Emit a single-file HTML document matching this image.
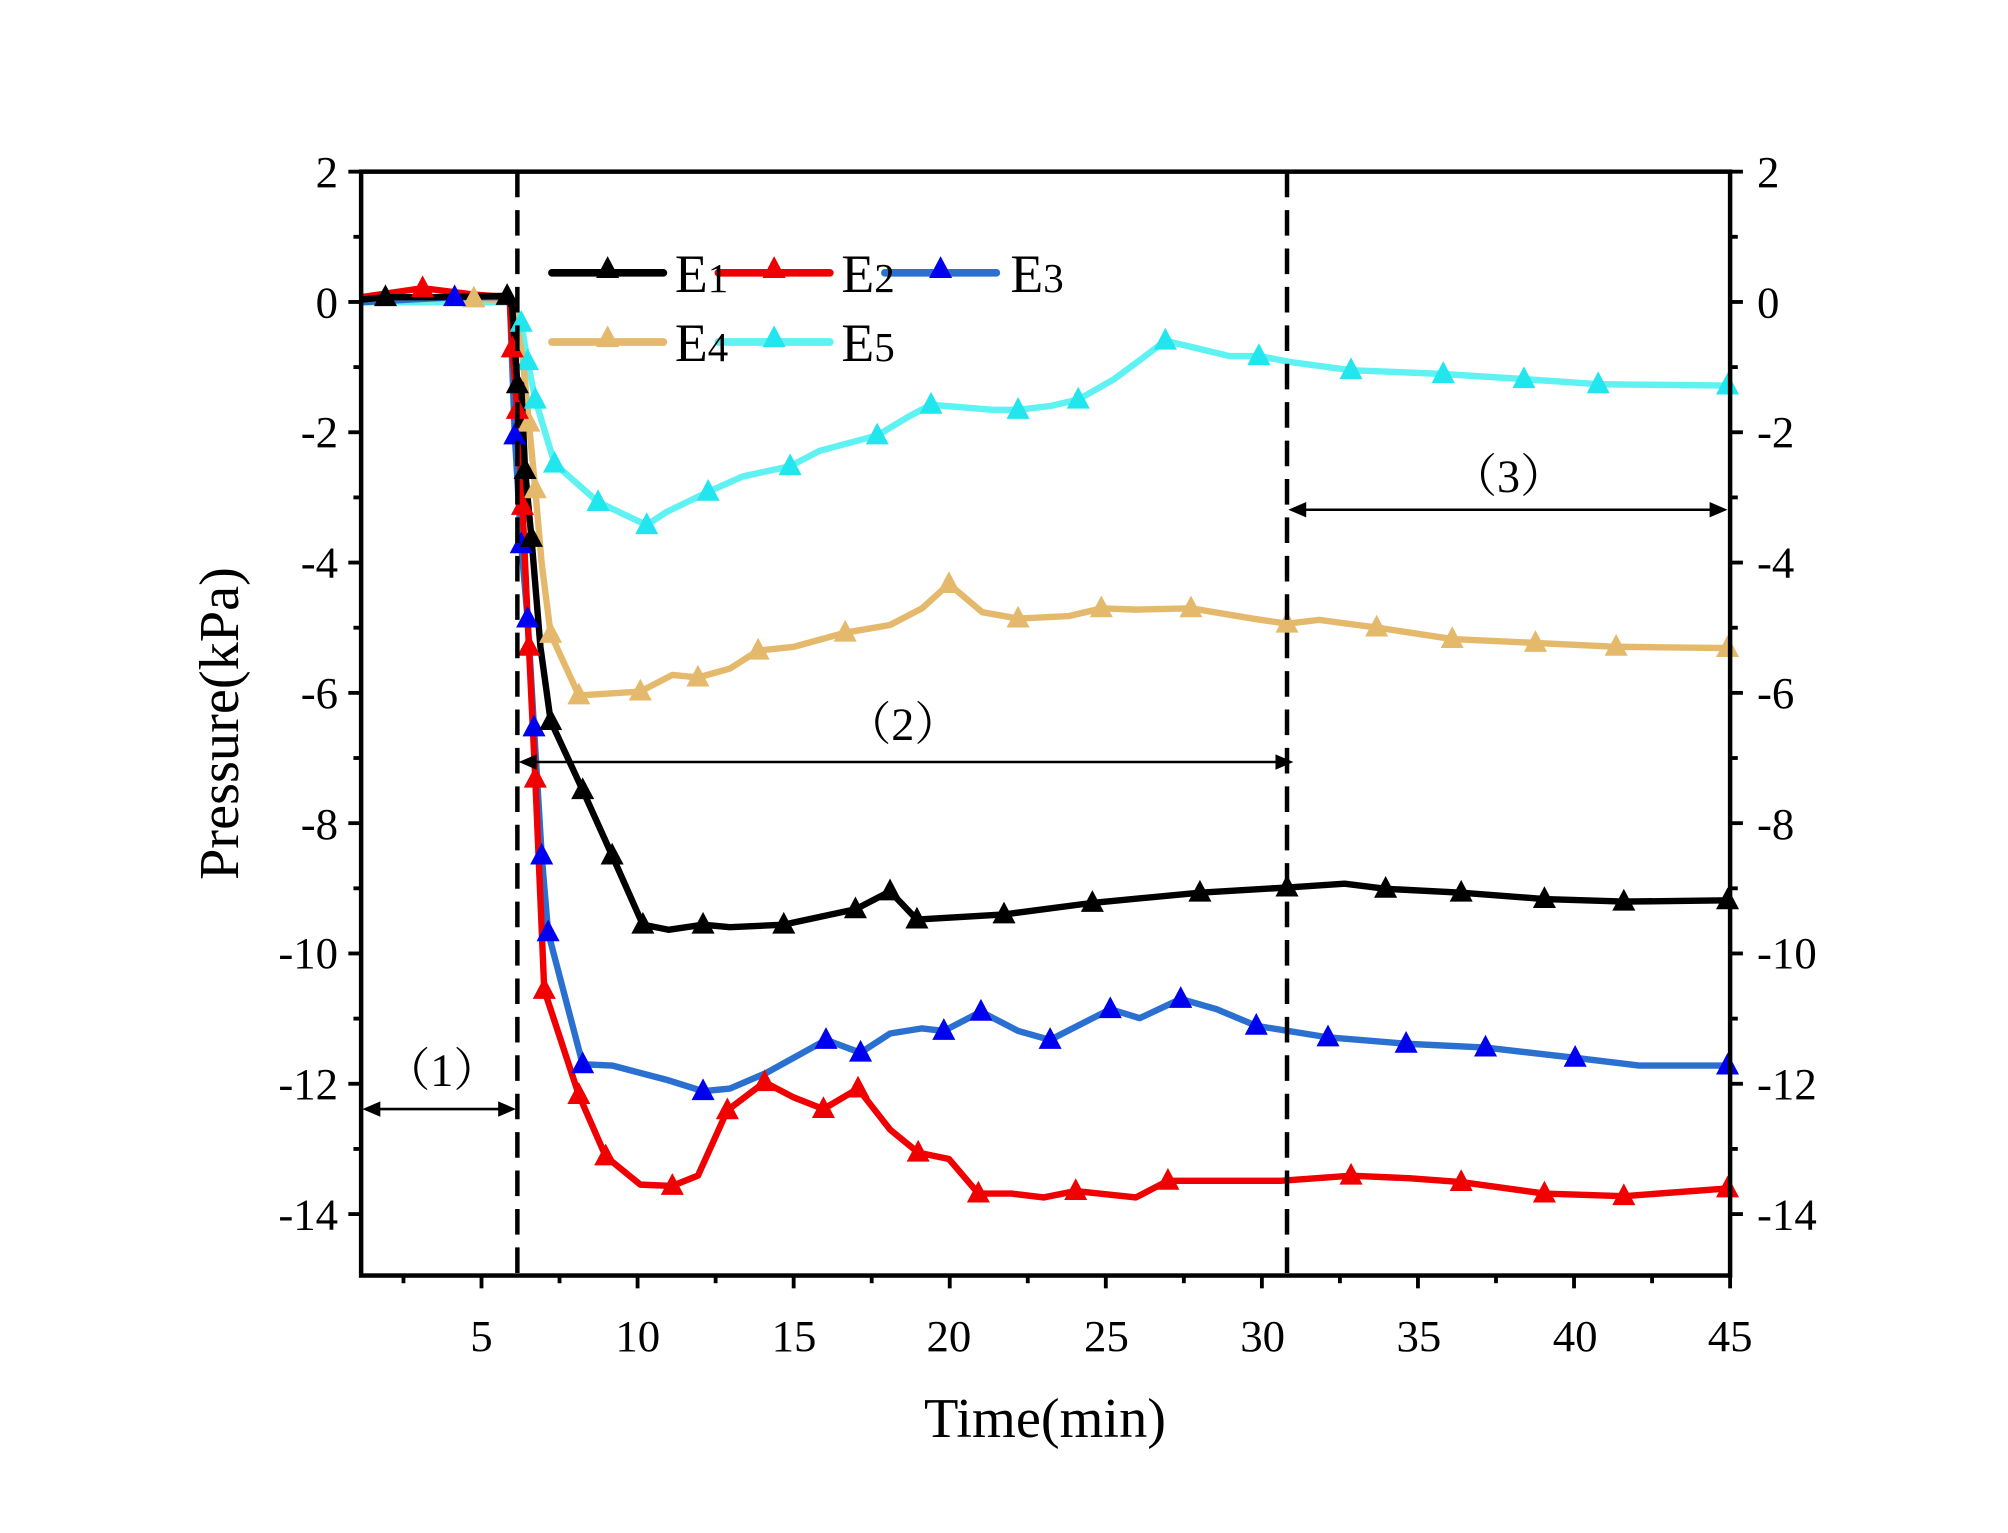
<!DOCTYPE html>
<html><head><meta charset="utf-8"><style>html,body{margin:0;padding:0;background:#fff}svg{display:block}</style></head>
<body>
<svg id="s" width="2008" height="1533" viewBox="0 0 1568 1197" xmlns="http://www.w3.org/2000/svg" font-family="Liberation Serif, 'Noto Serif CJK SC', serif">
<rect width="1568" height="1197" fill="#fff"/>
<g id="series"></g>
<g stroke="#000" stroke-width="3.5" fill="none">
<rect x="282" y="134" width="1069" height="862"/>
<line x1="404" y1="134" x2="404" y2="996" stroke-dasharray="20,10"/>
<line x1="1005" y1="134" x2="1005" y2="996" stroke-dasharray="20,10"/>
</g>
<g id="ticks" stroke="#000" stroke-width="3"></g>
<g font-size="35" text-anchor="end" fill="#000">
<text x="264" y="146">2</text><text x="264" y="248">0</text><text x="264" y="349">-2</text><text x="264" y="451">-4</text><text x="264" y="553">-6</text><text x="264" y="655">-8</text><text x="264" y="756">-10</text><text x="264" y="858">-12</text><text x="264" y="960">-14</text>
</g>
<g font-size="35" text-anchor="start" fill="#000">
<text x="1372" y="146">2</text><text x="1372" y="248">0</text><text x="1372" y="349">-2</text><text x="1372" y="451">-4</text><text x="1372" y="553">-6</text><text x="1372" y="655">-8</text><text x="1372" y="756">-10</text><text x="1372" y="858">-12</text><text x="1372" y="960">-14</text>
</g>
<g font-size="35" text-anchor="middle" fill="#000">
<text x="376" y="1055">5</text><text x="498" y="1055">10</text><text x="620" y="1055">15</text><text x="741" y="1055">20</text><text x="864" y="1055">25</text><text x="986" y="1055">30</text><text x="1108" y="1055">35</text><text x="1230" y="1055">40</text><text x="1351" y="1055">45</text>
</g>
<text x="816" y="1122" font-size="44" text-anchor="middle">Time(min)</text>
<text transform="translate(186,565) rotate(-90)" font-size="44" text-anchor="middle">Pressure(kPa)</text>
<g stroke="#000" stroke-width="2" fill="#000">
<line x1="290" y1="866" x2="396" y2="866"/><path d="M283,866 l14,-6 v12z M403,866 l-14,-6 v12z" stroke="none"/>
<line x1="412" y1="595" x2="1002" y2="595"/><path d="M405,595 l14,-6 v12z M1010,595 l-14,-6 v12z" stroke="none"/>
<line x1="1014" y1="398" x2="1341" y2="398"/><path d="M1006,398 l14,-6 v12z M1349,398 l-14,-6 v12z" stroke="none"/>
</g>
<g font-size="36" text-anchor="middle">
<text x="345" y="848">（1）</text>
<text x="705" y="578">（2）</text>
<text x="1178" y="384">（3）</text>
</g>
<g id="legend"></g>
<g font-size="42" fill="#000">
<text x="527" y="228">E<tspan font-size="32">1</tspan></text>
<text x="657" y="228">E<tspan font-size="32">2</tspan></text>
<text x="789" y="228">E<tspan font-size="32">3</tspan></text>
<text x="527" y="282">E<tspan font-size="32">4</tspan></text>
<text x="657" y="282">E<tspan font-size="32">5</tspan></text>
</g>
<script>
var NS="http://www.w3.org/2000/svg";
function el(p,n,a){var e=document.createElementNS(NS,n);for(var k in a)e.setAttribute(k,a[k]);p.appendChild(e);return e;}
var T=document.getElementById('ticks');
for(var i=0;i<=16;i++){var y=134+i*50.875;var L=(i%2==0)?10:6;
el(T,'line',{x1:282-L,y1:y,x2:282,y2:y});el(T,'line',{x1:1351,y1:y,x2:1351+L,y2:y});}
for(var t=2.5;t<=45;t+=2.5){var x=376+(t-5)*24.375;if(x<282)continue;var L=(t%5==0)?10:6;el(T,'line',{x1:x,y1:996,x2:x,y2:996+L});}
function tri(g,x,y,c){el(g,'path',{d:'M'+x+','+(y-10)+' L'+(x+9)+','+(y+7)+' L'+(x-9)+','+(y+7)+'Z',fill:c});}
var S=[
{lc:'#5ef2f2',mc:'#22e6ee',d:[[282,236],[400,236],[407,252,1],[412,282,1],[418,312,1],[433,362,1],[467,392,1],[505,410,1],[520,400],[553,384,1],[580,372],[617,364,1],[640,352],[685,340,1],[710,325],[727,316,1],[775,320],[795,320,1],[820,317],[842,312,1],[870,296],[893,279],[910,266,1],[935,272],[960,278],[983,278,1],[1010,283],[1055,289,1],[1127,292,1],[1190,296,1],[1248,300,1],[1349,301,1]]},
{lc:'#e5b96c',mc:'#e5b96c',d:[[282,234],[370,233,1],[400,235],[408,278],[413,330,1],[418,382,1],[423,440],[430,495,1],[452,543,1],[500,540,1],[525,527],[545,529,1],[570,522],[592,508,1],[620,505],[660,494,1],[695,488],[720,475],[741,456,1],[767,478],[795,483,1],[835,481],[860,475,1],[887,476],[930,475,1],[978,483],[1005,487,1],[1030,484],[1075,490,1],[1134,499,1],[1199,502,1],[1262,505,1],[1349,506,1]]},
{lc:'#2a70d0',mc:'#0000f0',d:[[282,236],[355,232,1],[398,232],[402,340,1],[407,425,1],[412,483,1],[417,568,1],[423,668,1],[428,728,1],[455,831,1],[478,832],[520,843],[549,852,1],[570,850],[598,838],[645,812,1],[672,822,1],[695,807],[720,803],[737,805,1],[766,790,1],[795,805],[820,812,1],[867,788,1],[890,795],[922,780,1],[950,788],[981,801,1],[1037,810,1],[1098,815,1],[1160,818,1],[1230,826,1],[1280,832],[1349,832,1]]},
{lc:'#f00000',mc:'#f00000',d:[[282,232],[330,225,1],[370,230],[398,232],[400,272,1],[404,320,1],[408,395,1],[413,505,1],[418,608,1],[425,773,1],[452,855,1],[473,903,1],[500,925],[525,926,1],[545,918],[568,867,1],[597,845,1],[620,857],[643,866,1],[670,850,1],[695,882],[717,900,1],[741,905],[764,932,1],[790,932],[815,935],[840,930,1],[887,935],[912,922,1],[960,922],[1000,922],[1055,918,1],[1100,920],[1141,923,1],[1206,932,1],[1268,934,1],[1349,928,1]]},
{lc:'#000',mc:'#000',d:[[282,234],[301,232,1],[340,232],[396,231,1],[400,240],[404,300,1],[407,300],[410,367,1],[415,420,1],[422,505],[430,563,1],[455,617,1],[478,668,1],[502,722,1],[522,726],[549,722,1],[570,724],[612,722,1],[668,710,1],[695,696,1],[716,718,1],[784,714,1],[853,705,1],[937,697,1],[1005,693,1],[1050,690],[1082,694,1],[1141,697,1],[1206,702,1],[1268,704,1],[1349,703,1]]}
];
var G=document.getElementById('series');
S.forEach(function(s){el(G,'polyline',{points:s.d.map(function(p){return p[0]+','+p[1]}).join(' '),fill:'none',stroke:s.lc,'stroke-width':5,'stroke-linejoin':'round'});});
S.forEach(function(s){s.d.forEach(function(p){if(p[2])tri(G,p[0],p[1],s.mc);});});
var Lg=document.getElementById('legend');
[[431,518,213,'#000','#000'],[561,648,213,'#f00000','#f00000'],[691,778,213,'#2a70d0','#0000f0'],[431,518,267,'#e5b96c','#e5b96c'],[561,648,267,'#5ef2f2','#22e6ee']].forEach(function(l){
el(Lg,'line',{x1:l[0],y1:l[2],x2:l[1],y2:l[2],stroke:l[3],'stroke-width':6,'stroke-linecap':'round'});tri(Lg,(l[0]+l[1])/2,l[2]-3,l[4]);});
</script>
</svg>
</body></html>
